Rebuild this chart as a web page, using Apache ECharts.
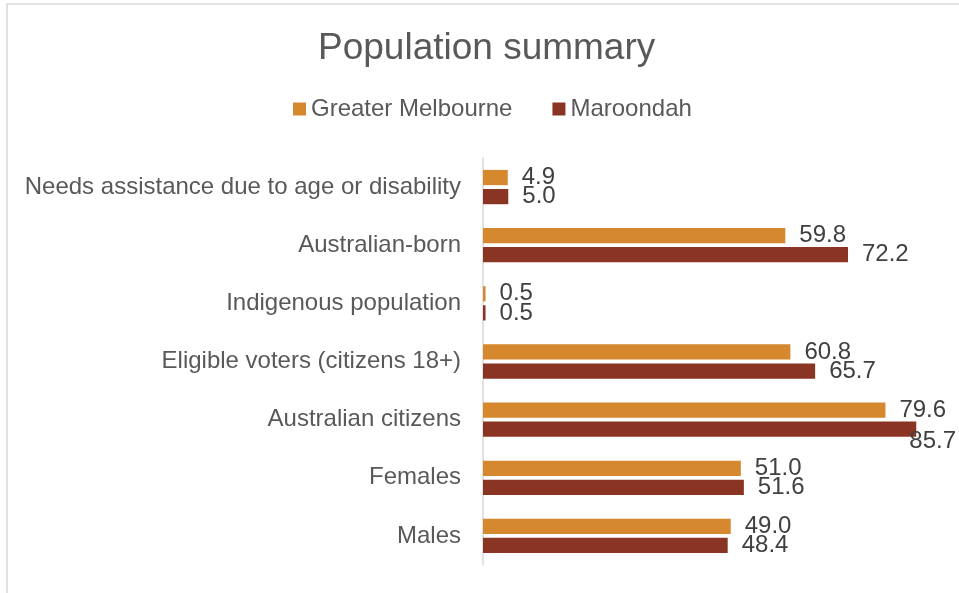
<!DOCTYPE html>
<html>
<head>
<meta charset="utf-8">
<script src="https://cdn.jsdelivr.net/npm/echarts@6/dist/echarts.min.js"></script>
<style>
  html, body { margin: 0; padding: 0; background: #fff; }
  #chart { width: 959px; height: 593px; }
</style>
</head>
<body>
<div id="chart"></div>
<script>
// Categories, top to bottom
const categories = [
  'Needs assistance due to age or disability',
  'Australian-born',
  'Indigenous population',
  'Eligible voters (citizens 18+)',
  'Australian citizens',
  'Females',
  'Males'
];
const seriesNames = ['Greater Melbourne', 'Maroondah'];
// Percent values per category
const greaterMelbourne = [4.9, 59.8, 0.5, 60.8, 79.6, 51.0, 49.0];
const maroondah = [5.0, 72.2, 0.5, 65.7, 85.7, 51.6, 48.4];

const colors = ['#D5882E', '#8A3523'];
const font = 'Liberation Sans, Arial, sans-serif';
const W = 959;

const chart = echarts.init(document.getElementById('chart'), null, { renderer: 'canvas' });

const labelCfg = {
  show: true,
  position: 'right',
  distance: 14,
  color: '#404040',
  fontSize: 24,
  fontFamily: font,
  formatter: p => p.value.toFixed(1)
};

// keep value labels inside the chart frame on the right
function keepInside(params) {
  const r = params.labelRect;
  const maxRight = W - 3;
  if (r.x + r.width > maxRight) {
    return { x: maxRight - r.width };
  }
  return {};
}

chart.setOption({
  animation: false,
  backgroundColor: '#fff',
  graphic: [{
    type: 'rect',
    shape: { x: 7, y: 4, width: 980, height: 620 },
    style: { fill: 'none', stroke: '#D9D9D9', lineWidth: 1.5 },
    z: -1
  }],
  title: {
    text: 'Population summary',
    left: 313,
    top: 25,
    textStyle: { fontFamily: font, fontSize: 37, fontWeight: 'normal', color: '#595959' }
  },
  legend: {
    data: seriesNames,
    top: 92,
    left: 288,
    itemWidth: 13,
    itemHeight: 13,
    itemGap: 40,
    icon: 'rect',
    textStyle: { fontFamily: font, fontSize: 24, color: '#595959' }
  },
  grid: { left: 483, right: 21, top: 158, bottom: 28, containLabel: false },
  xAxis: {
    type: 'value',
    min: 0,
    max: 90,
    show: false
  },
  yAxis: {
    type: 'category',
    data: categories,
    inverse: true,
    axisLine: { show: true, lineStyle: { color: '#D9D9D9', width: 1.5 } },
    axisTick: { show: false },
    axisLabel: { margin: 22, fontFamily: font, fontSize: 24, color: '#595959' }
  },
  series: [
    {
      name: seriesNames[0],
      type: 'bar',
      data: greaterMelbourne,
      itemStyle: { color: colors[0] },
      barCategoryGap: '41%',
      barGap: '25%',
      label: labelCfg,
      labelLayout: keepInside
    },
    {
      name: seriesNames[1],
      type: 'bar',
      data: maroondah,
      itemStyle: { color: colors[1] },
      barCategoryGap: '41%',
      barGap: '25%',
      label: labelCfg,
      labelLayout: keepInside
    }
  ]
});
</script>
</body>
</html>
